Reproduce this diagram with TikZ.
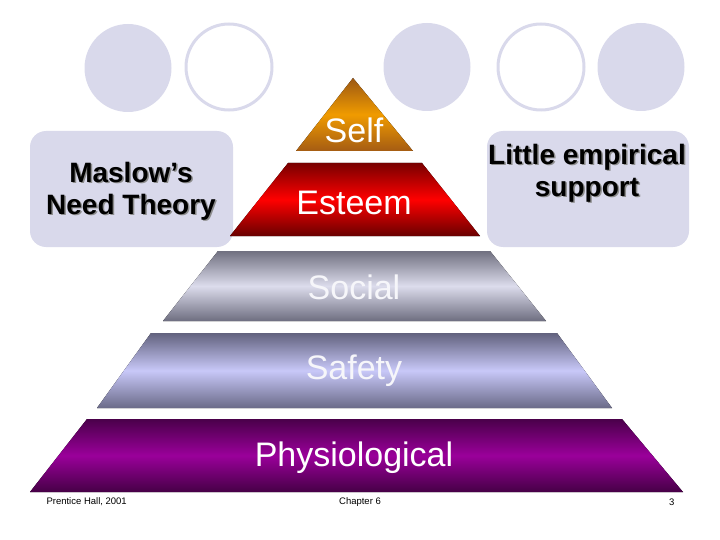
\documentclass[tikz,border=0pt]{standalone}
\usepackage{fontspec}
\setmainfont{Liberation Sans}
\usepackage{xcolor}
\usetikzlibrary{positioning, calc, shapes}

\definecolor{lav}{HTML}{D9D9EB}
\definecolor{shade}{HTML}{8C8C8C}

\begin{document}
\begin{tikzpicture}[x=1pt, y=-1pt,
            ball/.style={ellipse, minimum width=87pt, minimum height=88pt, fill=lav},
            ring/.style={ellipse, minimum width=86pt, minimum height=86pt, draw=lav, line width=3pt},
            panel/.style={draw=none, fill=lav, rounded corners=16pt},
            panelfont/.style={font=\fontsize{28}{32}\selectfont\bfseries, align=center},
            levelfont/.style={font=\fontsize{34}{38}\selectfont, text=white},
            footfont/.style={font=\fontsize{9.5}{11}\selectfont, text=black}]

            \useasboundingbox (0,0) rectangle (720,540);

            % circles along the top
            \node[ball] (b1) at (128,68) {};
            \node[ring] (r1) at (229,67) {};
            \node[ball] (b2) at (427,67) {};
            \node[ring] (r2) at (541,67) {};
            \node[ball] (b3) at (641,67) {};

            % side panels
            \fill[panel] (30,131) rectangle (233,247);
            \fill[panel] (487,131) rectangle (689,247);
            \node[panelfont, text=shade] (maslow_sh) at (132.5,192.5) {Maslow’s\\Need Theory};
            \node[panelfont] (maslow) at (131,191) {Maslow’s\\Need Theory};
            \node[panelfont, text=shade] (support_sh) at (588.5,174.5) {Little empirical\\support};
            \node[panelfont] (support) at (587,173) {Little empirical\\support};

            % pyramid
            \fill[top color=black!45!orange!70!brown, bottom color=black!40!orange!70!brown, middle color={rgb,255:red,240;green,155;blue,0}]
                (353,78) -- (413,151) -- (296,151) -- cycle;
            \fill[top color={rgb,255:red,120;green,0;blue,0}, bottom color={rgb,255:red,105;green,0;blue,0}, middle color={rgb,255:red,255;green,0;blue,0}]
                (288,163) -- (422,163) -- (480,236) -- (230,236) -- cycle;
            \fill[top color={rgb,255:red,112;green,112;blue,128}, bottom color={rgb,255:red,110;green,110;blue,128}, middle color={rgb,255:red,220;green,220;blue,236}]
                (218,251) -- (490,251) -- (546,321) -- (163,321) -- cycle;
            \fill[top color={rgb,255:red,98;green,98;blue,126}, bottom color={rgb,255:red,106;green,106;blue,136}, middle color={rgb,255:red,200;green,200;blue,248}]
                (151,333) -- (557,333) -- (612,408) -- (97,408) -- cycle;
            \fill[top color={rgb,255:red,74;green,0;blue,74}, bottom color={rgb,255:red,70;green,0;blue,70}, middle color={rgb,255:red,154;green,0;blue,154}]
                (87,419) -- (622,419) -- (683,492) -- (30,492) -- cycle;

            \node[levelfont] (self) at (354,130) {Self};
            \node[levelfont] (esteem) at (354,203) {Esteem};
            \node[levelfont, text=white!75!lav] (social) at (354,287) {Social};
            \node[levelfont, text=white!75!lav] (safety) at (354,371) {Safety};
            \node[levelfont] (physio) at (354,458) {Physiological};

            % footer
            \node[footfont, anchor=west] (source) at (43,502) {Prentice Hall, 2001};
            \node[footfont] (chapter) at (360,502) {Chapter 6};
            \node[footfont, anchor=east] (page) at (678,502) {3};
        \end{tikzpicture}
\end{document}
